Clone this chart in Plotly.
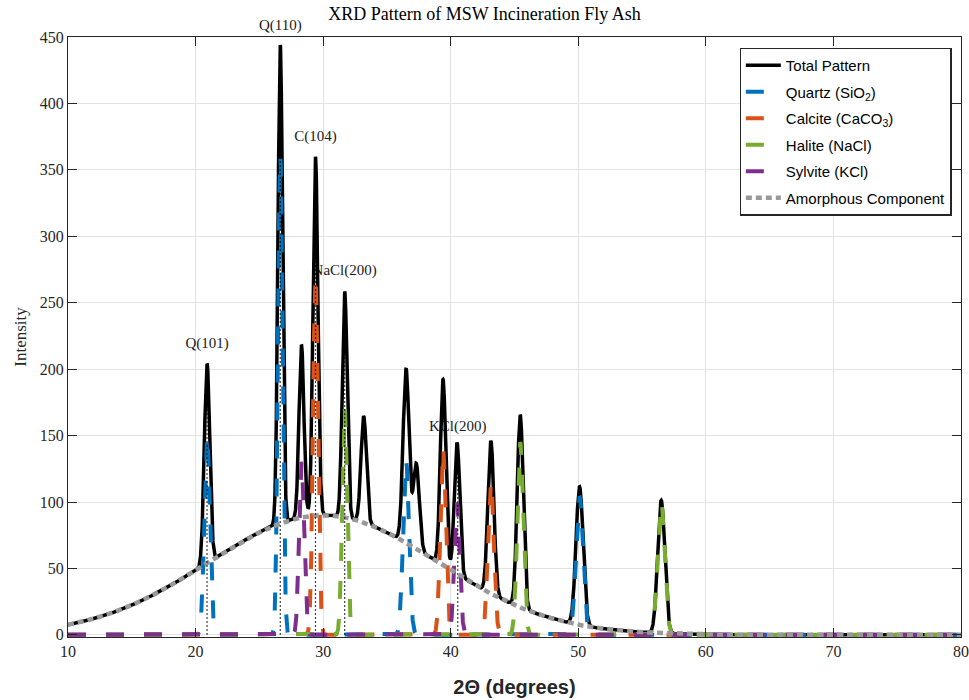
import numpy as np
import plotly.graph_objects as go

# ---- data -------------------------------------------------------------
two_theta = np.round(np.arange(10.0, 80.0001, 0.01), 2)

# reflections of each crystalline phase: position (deg 2θ), height, FWHM (deg)
quartz_pos = [20.90, 26.64, 36.50, 50.10]
quartz_int = [150, 360, 131, 104]
quartz_fwhm = [0.50, 0.42, 0.55, 0.65]

calcite_pos = [29.40, 39.40, 43.15]
calcite_int = [270, 140, 115]
calcite_fwhm = [0.45, 0.50, 0.55]

halite_pos = [31.69, 45.45, 56.50]
halite_int = [170, 145, 100]
halite_fwhm = [0.45, 0.55, 0.65]

sylvite_pos = [28.30, 40.50]
sylvite_int = [130, 99]
sylvite_fwhm = [0.45, 0.50]

# unassigned minor reflections (only part of the total pattern)
minor_pos = [33.18, 37.30]
minor_int = [80, 64]
minor_fwhm = [0.50, 0.55]

# broad amorphous halo
halo_center = 30.0
halo_height = 90.0
halo_sigma = 9.0

# annotated reflections
label_text = ["Q(101)", "Q(110)", "C(104)", "NaCl(200)", "KCl(200)"]
label_pos = [20.90, 26.64, 29.40, 31.69, 40.55]
label_offset = 15

Y_MIN, Y_MAX = -1.6, 450

# ---- profiles -----------------------------------------------------------
def phase_profile(pos, inten, fwhm):
    y = np.zeros_like(two_theta)
    for p, h, w in zip(pos, inten, fwhm):
        y += h * np.exp(-4 * np.log(2) * (two_theta - p) ** 2 / w ** 2)
    return y

quartz = phase_profile(quartz_pos, quartz_int, quartz_fwhm)
calcite = phase_profile(calcite_pos, calcite_int, calcite_fwhm)
halite = phase_profile(halite_pos, halite_int, halite_fwhm)
sylvite = phase_profile(sylvite_pos, sylvite_int, sylvite_fwhm)
minor = phase_profile(minor_pos, minor_int, minor_fwhm)
amorphous = halo_height * np.exp(-((two_theta - halo_center) ** 2) / (2 * halo_sigma ** 2))
total = amorphous + quartz + calcite + halite + sylvite + minor

label_top = np.interp(label_pos, two_theta, total)
label_y = label_top + label_offset

# ---- figure -------------------------------------------------------------
SERIF = "Liberation Serif"
SANS = "Liberation Sans"
AX = "#262626"
label_font = dict(family=SERIF, size=15, color="#1a1a1a")

fig = go.Figure()

# peak labels inside the axes sit underneath the curves
inside = [i for i, v in enumerate(label_y) if v <= Y_MAX]
fig.add_trace(go.Scatter(
    x=[label_pos[i] for i in inside], y=[label_y[i] for i in inside],
    mode="text", text=[label_text[i] for i in inside],
    textfont=label_font, showlegend=False, hoverinfo="skip"))

# labels that rise above the top of the axes
for i, v in enumerate(label_y):
    if v > Y_MAX:
        fig.add_annotation(x=label_pos[i], xref="x",
                           y=(v - Y_MIN) / (Y_MAX - Y_MIN), yref="paper",
                           text=label_text[i], showarrow=False, font=label_font,
                           xanchor="center", yanchor="middle")

fig.add_trace(go.Scatter(x=two_theta, y=total, mode="lines", name="Total Pattern",
                         legendgroup="total",
                         line=dict(color="black", width=3.5)))

phase_dash = "18px,20px"
for name, y, col in [
    ("Quartz (SiO<sub>2</sub>)", quartz, "#0072BD"),
    ("Calcite (CaCO<sub>3</sub>)", calcite, "#D95319"),
    ("Halite (NaCl)", halite, "#77AC30"),
    ("Sylvite (KCl)", sylvite, "#7E2F8E"),
]:
    fig.add_trace(go.Scatter(x=two_theta, y=y, mode="lines", name=name, legendgroup=name,
                             line=dict(color=col, width=4, dash=phase_dash)))

fig.add_trace(go.Scatter(x=two_theta, y=amorphous, mode="lines", name="Amorphous Component",
                         legendgroup="amorphous",
                         line=dict(color="#999999", width=4.5, dash="6px,4px")))

# dotted markers from the baseline up to each labelled reflection
vx, vy = [], []
for p, t in zip(label_pos, label_top):
    vx += [p, p, None]
    vy += [0, t, None]
fig.add_trace(go.Scatter(x=vx, y=vy, mode="lines", showlegend=False, hoverinfo="skip",
                         line=dict(color="black", width=1.2, dash="1.5px,2.5px")))

axis_common = dict(
    showline=True, linecolor=AX, linewidth=1.3, mirror="ticks",
    ticks="inside", ticklen=9, tickcolor=AX, tickwidth=1.2,
    showgrid=True, gridcolor="#e3e3e3", gridwidth=1, zeroline=False,
    tickfont=dict(family=SERIF, size=16, color=AX), automargin=False,
)

fig.update_layout(
    width=969, height=700,
    margin=dict(l=68, r=8, t=37, b=63),
    paper_bgcolor="white", plot_bgcolor="white",
    title=dict(text="XRD Pattern of MSW Incineration Fly Ash",
               font=dict(family=SERIF, size=18, color="black"),
               x=0.5, xref="container", xanchor="center",
               y=1 - 14 / 700, yref="container", yanchor="middle"),
    xaxis=dict(range=[10, 80], tickvals=list(range(10, 81, 10)),
               title=dict(text="<b>2Θ (degrees)</b>", font=dict(family=SANS, size=20, color=AX),
                          standoff=20),
               **axis_common),
    yaxis=dict(range=[Y_MIN, Y_MAX], tickvals=list(range(0, 451, 50)),
               title=dict(text="Intensity", font=dict(family=SERIF, size=17, color=AX),
                          standoff=8),
               **axis_common),
    legend=dict(x=0.752, y=0.982, xanchor="left", yanchor="top",
                bgcolor="white", bordercolor=AX, borderwidth=1.3,
                font=dict(family=SANS, size=15, color="black"),
                itemwidth=35, traceorder="grouped", tracegroupgap=4),
    showlegend=True,
)

fig.write_html("out.html")
